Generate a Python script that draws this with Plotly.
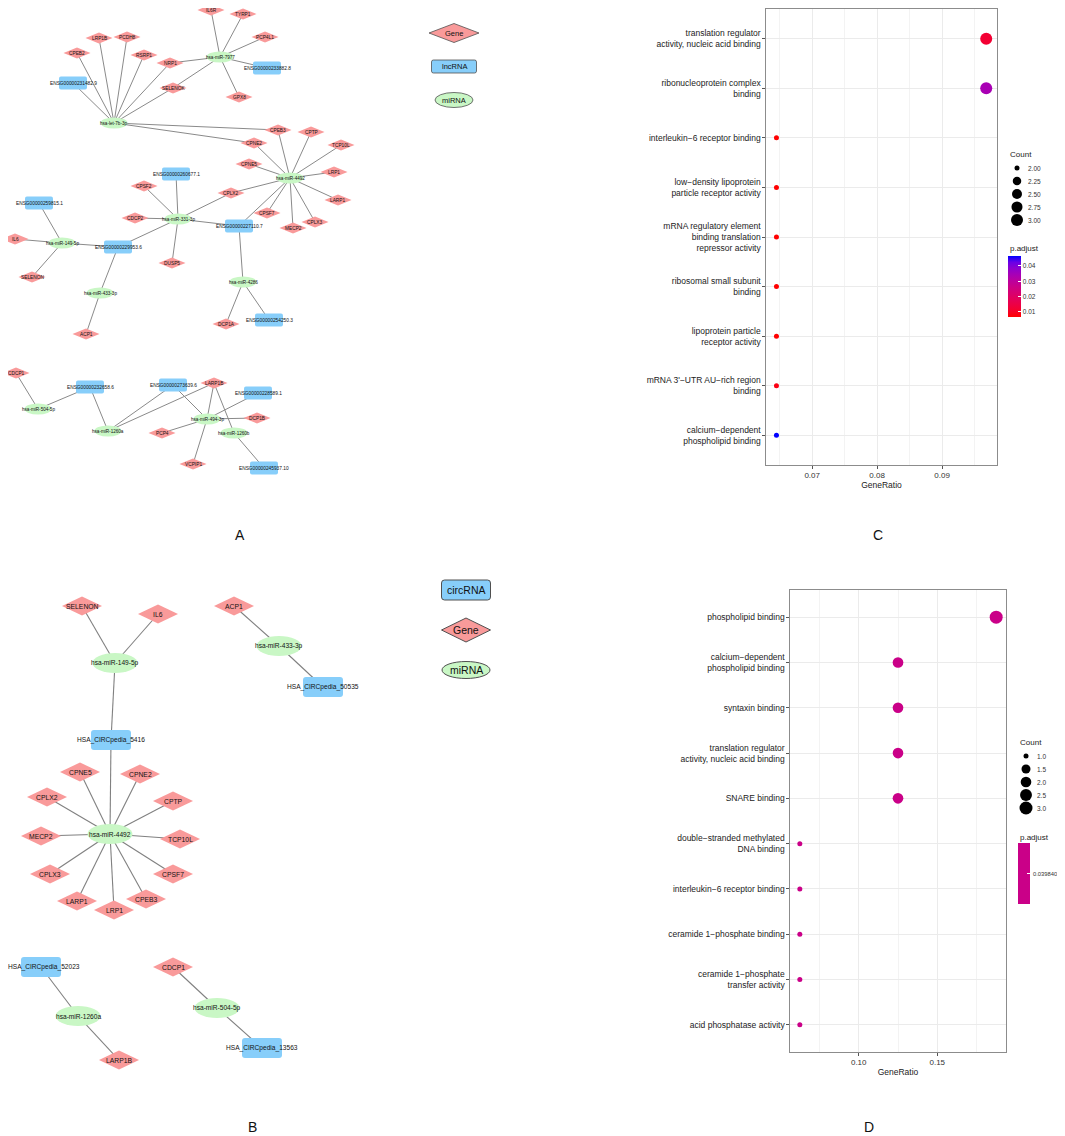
import numpy as np
import plotly.graph_objects as go

W, H = 1065, 1136          # browser window
OX, OY = 8, 8              # default page body margin offset
FW, FH = W - OX, H - OY    # figure size so it ends at the window edge

# ======================= DATA =======================
# ---- Panel A: ceRNA network (node layout in page pixels) ----
a_node_names = [
    "IL6R", "TYRP1", "LRP1B", "PCDH8", "CPEB2", "RSRP1", "PCP4L1", "NRP1", "SELENOK", "GPX8",
    "CPEB3", "CPTP", "TCP10L", "CPNE2", "CPNE5", "LRP1", "LARP1", "CPLX2", "CPSF7", "CPLX3",
    "MECP2", "CPSF2", "CDCP2", "IL6", "SELENON", "DUSP5", "DCP1A", "ACP1", "CDCP1", "LARP1B",
    "DCP1B", "PCP4", "VCPIP1",
    "ENSG00000233882.8", "ENSG00000231482.9", "ENSG00000260677.1", "ENSG00000259815.1",
    "ENSG00000227110.7", "ENSG00000229953.6", "ENSG00000254250.3", "ENSG00000232658.6",
    "ENSG00000273639.6", "ENSG00000228589.1", "ENSG00000245937.10",
    "hsa-miR-7977", "hsa-let-7b-3p", "hsa-miR-4492", "hsa-miR-331-3p", "hsa-miR-149-5p",
    "hsa-miR-433-3p", "hsa-miR-4286", "hsa-miR-504-5p", "hsa-miR-1260a", "hsa-miR-494-3p",
    "hsa-miR-1260b",
]
a_node_types = ["gene"] * 33 + ["lnc"] * 11 + ["mir"] * 11
a_node_x = [211, 243, 99, 127, 77, 144, 265, 170, 173, 239,
            278, 311, 341, 254, 249, 334, 338, 231, 267, 315,
            293, 144, 135, 15, 32, 172, 226, 86, 16, 214,
            257, 162, 193,
            267, 73, 176, 39, 239, 118, 269, 90, 173, 258, 264,
            220, 114, 290, 178, 62, 100, 243, 38, 108, 207, 234]
a_node_y = [10, 14, 38, 37, 53, 55, 37, 63, 88, 97,
            130, 132, 145, 143, 164, 172, 200, 193, 213, 222,
            228, 186, 218, 239, 277, 263, 324, 334, 373, 383,
            418, 433, 464,
            68, 83, 174, 203, 226, 247, 320, 387, 385, 393, 468,
            57, 123, 178, 219, 243, 293, 282, 409, 431, 419, 433]
a_edge_src = (["hsa-let-7b-3p"] * 9 + ["hsa-miR-7977"] * 7 + ["hsa-miR-4492"] * 12 +
              ["hsa-miR-331-3p"] * 7 + ["hsa-miR-149-5p"] * 4 + ["hsa-miR-433-3p"] * 2 +
              ["hsa-miR-4286"] * 3 + ["hsa-miR-504-5p"] * 2 + ["hsa-miR-1260a"] * 3 +
              ["hsa-miR-494-3p"] * 6 + ["hsa-miR-1260b"] * 2)
a_edge_dst = ["CPEB2", "LRP1B", "PCDH8", "RSRP1", "NRP1", "SELENOK", "ENSG00000231482.9", "CPEB3", "CPNE2",
              "IL6R", "TYRP1", "PCP4L1", "NRP1", "ENSG00000233882.8", "GPX8", "SELENOK",
              "CPEB3", "CPTP", "TCP10L", "CPNE2", "CPNE5", "LRP1", "LARP1", "CPLX2", "CPSF7", "CPLX3",
              "MECP2", "ENSG00000227110.7",
              "ENSG00000260677.1", "CPSF2", "CDCP2", "CPLX2", "ENSG00000227110.7", "DUSP5",
              "ENSG00000229953.6",
              "ENSG00000259815.1", "IL6", "SELENON", "ENSG00000229953.6",
              "ENSG00000229953.6", "ACP1",
              "ENSG00000227110.7", "DCP1A", "ENSG00000254250.3",
              "CDCP1", "ENSG00000232658.6",
              "ENSG00000232658.6", "ENSG00000273639.6", "LARP1B",
              "ENSG00000273639.6", "LARP1B", "ENSG00000228589.1", "DCP1B", "PCP4", "VCPIP1",
              "LARP1B", "ENSG00000245937.10"]
a_legend_labels = ["Gene", "lncRNA", "miRNA"]
a_legend_types = ["gene", "lnc", "mir"]

# ---- Panel B: circRNA network ----
b_node_names = ["SELENON", "IL6", "ACP1", "CPNE5", "CPNE2", "CPLX2", "CPTP", "MECP2", "TCP10L",
                "CPLX3", "CPSF7", "LARP1", "CPEB3", "LRP1", "CDCP1", "LARP1B",
                "HSA_CIRCpedia_50535", "HSA_CIRCpedia_5416", "HSA_CIRCpedia_52023", "HSA_CIRCpedia_13563",
                "hsa-miR-149-5p", "hsa-miR-433-3p", "hsa-miR-4492", "hsa-miR-1260a", "hsa-miR-504-5p"]
b_node_types = ["gene"] * 16 + ["lnc"] * 4 + ["mir"] * 5
b_node_x = [82, 158, 234, 80, 140, 47, 173, 41, 180, 50, 173, 77, 146, 114, 173, 119,
            323, 111, 41, 262,
            115, 279, 110, 78, 217]
b_node_y = [606, 614, 606, 772, 774, 797, 801, 836, 839, 874, 874, 901, 899, 910, 967, 1060,
            687, 740, 967, 1048,
            663, 646, 834, 1016, 1008]
b_edge_src = (["hsa-miR-149-5p"] * 3 + ["hsa-miR-433-3p"] * 2 + ["hsa-miR-4492"] * 12 +
              ["hsa-miR-1260a"] * 2 + ["hsa-miR-504-5p"] * 2)
b_edge_dst = ["SELENON", "IL6", "HSA_CIRCpedia_5416",
              "ACP1", "HSA_CIRCpedia_50535",
              "HSA_CIRCpedia_5416", "CPNE5", "CPNE2", "CPLX2", "CPTP", "MECP2", "TCP10L", "CPLX3",
              "CPSF7", "LARP1", "CPEB3", "LRP1",
              "HSA_CIRCpedia_52023", "LARP1B",
              "CDCP1", "HSA_CIRCpedia_13563"]
b_legend_labels = ["circRNA", "Gene", "miRNA"]
b_legend_types = ["lnc", "gene", "mir"]

# ---- Panel C: GO enrichment (lncRNA network genes) ----
c_terms = ["translation regulator\nactivity, nucleic acid binding",
           "ribonucleoprotein complex\nbinding",
           "interleukin−6 receptor binding",
           "low−density lipoprotein\nparticle receptor activity",
           "mRNA regulatory element\nbinding translation\nrepressor activity",
           "ribosomal small subunit\nbinding",
           "lipoprotein particle\nreceptor activity",
           "mRNA 3'−UTR AU−rich region\nbinding",
           "calcium−dependent\nphospholipid binding"]
c_gene_ratio = [0.0968, 0.0968, 0.0645, 0.0645, 0.0645, 0.0645, 0.0645, 0.0645, 0.0645]
c_count = [3, 3, 2, 2, 2, 2, 2, 2, 2]
c_padj = [0.012, 0.034, 0.0067, 0.0067, 0.0067, 0.0067, 0.0067, 0.0085, 0.0465]
c_x_ticks = [0.07, 0.08, 0.09]
c_count_legend = [2.00, 2.25, 2.50, 2.75, 3.00]
c_padj_ticks = [0.01, 0.02, 0.03, 0.04]

# ---- Panel D: GO enrichment (circRNA network genes) ----
d_terms = ["phospholipid binding",
           "calcium−dependent\nphospholipid binding",
           "syntaxin binding",
           "translation regulator\nactivity, nucleic acid binding",
           "SNARE binding",
           "double−stranded methylated\nDNA binding",
           "interleukin−6 receptor binding",
           "ceramide 1−phosphate binding",
           "ceramide 1−phosphate\ntransfer activity",
           "acid phosphatase activity"]
d_gene_ratio = [0.1875, 0.125, 0.125, 0.125, 0.125, 0.0625, 0.0625, 0.0625, 0.0625, 0.0625]
d_count = [3, 2, 2, 2, 2, 1, 1, 1, 1, 1]
d_padj = [0.0398404] * 10
d_x_ticks = [0.10, 0.15]
d_count_legend = [1.0, 1.5, 2.0, 2.5, 3.0]

# ======================= STYLE HELPERS =======================
FONT = "Liberation Sans, Arial, sans-serif"
GENE_FILL, LNC_FILL, MIR_FILL = "#F99A9A", "#87CEFA", "#C9F7C5"


def px_x(px):
    return min(1.0, max(0.0, (px - OX) / FW))


def px_y(py):
    return min(1.0, max(0.0, 1 - (py - OY) / FH))


def _lin(c):
    c = np.asarray(c, float)
    return np.where(c <= 0.04045, c / 12.92, ((c + 0.055) / 1.055) ** 2.4)


def _gam(c):
    c = np.clip(c, 0, 1)
    return np.where(c <= 0.0031308, 12.92 * c, 1.055 * c ** (1 / 2.4) - 0.055)


_M = np.array([[0.4124, 0.3576, 0.1805], [0.2126, 0.7152, 0.0722], [0.0193, 0.1192, 0.9505]])
_WP = np.array([0.95047, 1.0, 1.08883])


def rgb2lab(rgb):
    xyz = _M @ _lin(np.array(rgb) / 255.0) / _WP
    f = np.where(xyz > 0.008856, np.cbrt(xyz), 7.787 * xyz + 16 / 116)
    return np.array([116 * f[1] - 16, 500 * (f[0] - f[1]), 200 * (f[1] - f[2])])


def lab2hex(lab):
    L, a, b = lab
    fy = (L + 16) / 116
    fx = fy + a / 500
    fz = fy - b / 200
    f = np.array([fx, fy, fz])
    xyz = np.where(f ** 3 > 0.008856, f ** 3, (f - 16 / 116) / 7.787) * _WP
    rgb = _gam(np.linalg.solve(_M, xyz))
    r, g, bb = (np.round(rgb * 255)).astype(int)
    return "#%02X%02X%02X" % (r, g, bb)


LAB_LO, LAB_HI = rgb2lab([255, 0, 0]), rgb2lab([0, 0, 255])
lab_scale = [[float(t), lab2hex(LAB_LO + (LAB_HI - LAB_LO) * t)] for t in np.linspace(0, 1, 11)]
mid_color = lab2hex(LAB_LO + (LAB_HI - LAB_LO) * 0.5)


def size_px(v, vmin, vmax, dmin, dmax):
    t = (np.asarray(v, float) - vmin) / (vmax - vmin)
    return dmin + (dmax - dmin) * np.sqrt(t)


def node_shape(kind, cx, cy, w, h, fill, line_color=None, line_w=0):
    line = dict(color=line_color or fill, width=line_w)
    if kind == "gene":
        path = f"M{cx - w / 2},{cy} L{cx},{cy - h / 2} L{cx + w / 2},{cy} L{cx},{cy + h / 2} Z"
        return dict(type="path", path=path, xref="x", yref="y", fillcolor=fill, line=line, layer="above")
    if kind == "lnc":
        r = min(w, h) * 0.15
        x0, x1, y0, y1 = cx - w / 2, cx + w / 2, cy - h / 2, cy + h / 2
        path = (f"M{x0 + r},{y0} L{x1 - r},{y0} Q{x1},{y0} {x1},{y0 + r} L{x1},{y1 - r} "
                f"Q{x1},{y1} {x1 - r},{y1} L{x0 + r},{y1} Q{x0},{y1} {x0},{y1 - r} "
                f"L{x0},{y0 + r} Q{x0},{y0} {x0 + r},{y0} Z")
        return dict(type="path", path=path, xref="x", yref="y", fillcolor=fill, line=line, layer="above")
    return dict(type="circle", x0=cx - w / 2, x1=cx + w / 2, y0=cy - h / 2, y1=cy + h / 2,
                xref="x", yref="y", fillcolor=fill, line=line, layer="above")


FILLS = {"gene": GENE_FILL, "lnc": LNC_FILL, "mir": MIR_FILL}

fig = go.Figure()
shapes, annots = [], []


def draw_network(names, types, xs, ys, src, dst, sizes, font_sizes, edge_w, edge_col):
    pos = {n: (x, y) for n, x, y in zip(names, xs, ys)}
    ex, ey = [], []
    for s, d in zip(src, dst):
        ex += [pos[s][0], pos[d][0], None]
        ey += [pos[s][1], pos[d][1], None]
    fig.add_trace(go.Scatter(x=ex, y=ey, mode="lines", line=dict(color=edge_col, width=edge_w),
                             hoverinfo="skip", showlegend=False, xaxis="x", yaxis="y"))
    for n, t, x, y in zip(names, types, xs, ys):
        w, h = sizes[t]
        shapes.append(node_shape(t, x, y, w, h, FILLS[t]))
        half = len(n) * 0.56 * font_sizes[t] / 2
        lx = max(x, OX + 1 + half)      # keep label inside the page
        annots.append(dict(x=lx, y=y, xref="x", yref="y", text=n, showarrow=False,
                           xanchor="center", yanchor="middle",
                           font=dict(family=FONT, size=font_sizes[t], color="#111")))


draw_network(a_node_names, a_node_types, a_node_x, a_node_y, a_edge_src, a_edge_dst,
             {"gene": (27, 11), "lnc": (28, 13), "mir": (27, 11)},
             {"gene": 4.8, "lnc": 4.8, "mir": 4.6}, 1.0, "#8A8A8A")
draw_network(b_node_names, b_node_types, b_node_x, b_node_y, b_edge_src, b_edge_dst,
             {"gene": (40, 19), "lnc": (40, 20), "mir": (45, 20)},
             {"gene": 6.8, "lnc": 6.6, "mir": 6.6}, 1.1, "#808080")

# network legends
a_leg_sizes = {"gene": (50, 19), "lnc": (45, 13), "mir": (38, 15)}
for i, (lab, t) in enumerate(zip(a_legend_labels, a_legend_types)):
    cx, cy = 454, 33 + i * 33.5
    w, h = a_leg_sizes[t]
    shapes.append(node_shape(t, cx, cy, w, h, FILLS[t], "#505050", 0.8))
    annots.append(dict(x=cx, y=cy, xref="x", yref="y", text=lab, showarrow=False,
                       font=dict(family=FONT, size=7.5, color="#111")))
b_leg_sizes = {"gene": (49, 24), "lnc": (49, 20), "mir": (48, 17)}
for i, (lab, t) in enumerate(zip(b_legend_labels, b_legend_types)):
    cx, cy = 466, 590 + i * 40
    w, h = b_leg_sizes[t]
    shapes.append(node_shape(t, cx, cy, w, h, FILLS[t], "#505050", 1))
    annots.append(dict(x=cx, y=cy, xref="x", yref="y", text=lab, showarrow=False,
                       font=dict(family=FONT, size=10.5, color="#111")))

# ======================= DOT PLOTS =======================
c_labels = [t.replace("\n", "<br>") for t in c_terms]
d_labels = [t.replace("\n", "<br>") for t in d_terms]

fig.add_trace(go.Scatter(
    x=c_gene_ratio, y=c_labels, mode="markers", xaxis="x2", yaxis="y2", showlegend=False,
    marker=dict(size=size_px(c_count, min(c_count), max(c_count), 5, 12), color=c_padj,
                colorscale=lab_scale, cmin=min(c_padj), cmax=max(c_padj), line=dict(width=0),
                opacity=1, showscale=True,
                colorbar=dict(x=px_x(1008), xanchor="left", xpad=0, y=px_y(286.5), yanchor="middle",
                              ypad=0, len=61, lenmode="pixels", thickness=13, outlinewidth=0,
                              tickvals=c_padj_ticks, ticktext=[f"{v:.2f}" for v in c_padj_ticks],
                              ticks="inside", ticklen=3, tickcolor="white",
                              tickfont=dict(family=FONT, size=6.5, color="#333")))))

d_p = d_padj[0]
fig.add_trace(go.Scatter(
    x=d_gene_ratio, y=d_labels, mode="markers", xaxis="x3", yaxis="y3", showlegend=False,
    marker=dict(size=size_px(d_count, min(d_count), max(d_count), 5, 13), color=d_padj,
                colorscale=[[0, mid_color], [1, mid_color]], cmin=d_p * 0.999, cmax=d_p * 1.001,
                line=dict(width=0), opacity=1, showscale=True,
                colorbar=dict(x=px_x(1018), xanchor="left", xpad=0, y=px_y(873.5), yanchor="middle",
                              ypad=0, len=61, lenmode="pixels", thickness=12, outlinewidth=0,
                              tickvals=[d_p], ticktext=[""],
                              ticks="inside", ticklen=3, tickcolor="white",
                              tickfont=dict(family=FONT, size=6.5, color="#333")))))
annots.append(dict(x=1032, y=873.5, xref="x", yref="y", text=str(d_p), showarrow=False,
                   xanchor="left", yanchor="middle", borderpad=0,
                   font=dict(family=FONT, size=5.8, color="#333")))

# size legends (Count)
for vals, lo, hi, dmin, dmax, x0, y0, fmt in [
        (c_count_legend, min(c_count), max(c_count), 5, 12, 1017, 168, "{:.2f}"),
        (d_count_legend, min(d_count), max(d_count), 5, 13, 1026, 756, "{:.1f}")]:
    ys = [y0 + 13 * i for i in range(len(vals))]
    fig.add_trace(go.Scatter(x=[x0] * len(vals), y=ys, mode="markers", xaxis="x", yaxis="y",
                             marker=dict(size=size_px(vals, lo, hi, dmin, dmax), color="black",
                                         opacity=1, line=dict(width=0)),
                             hoverinfo="skip", showlegend=False))
    for v, yy in zip(vals, ys):
        annots.append(dict(x=x0 + 9, y=yy, xref="x", yref="y", text=fmt.format(v), showarrow=False,
                           xanchor="left", yanchor="middle",
                           font=dict(family=FONT, size=6.5, color="#333")))

for txt, x, y in [("Count", 1008, 154), ("p.adjust", 1008, 248),
                  ("Count", 1018, 742), ("p.adjust", 1018, 837)]:
    annots.append(dict(x=x, y=y, xref="x", yref="y", text=txt, showarrow=False, xanchor="left",
                       yanchor="middle", font=dict(family=FONT, size=8, color="#222")))

for txt, x, y in [("A", 240, 535), ("B", 252, 1127), ("C", 878, 535), ("D", 869, 1127)]:
    annots.append(dict(x=x, y=y, xref="x", yref="y", text=txt, showarrow=False,
                       xanchor="center", yanchor="middle", borderpad=0,
                       font=dict(family=FONT, size=14, color="#111")))


def dot_axes(xdom, ydom, xr, ticks, minor, labels, yanchor_name, xanchor_name):
    xa = dict(domain=xdom, anchor=yanchor_name, range=xr, tickvals=ticks,
              ticktext=[f"{t:.2f}" for t in ticks], showgrid=True, gridcolor="#EBEBEB", gridwidth=1,
              minor=dict(tickvals=minor, showgrid=True, gridcolor="#F3F3F3", gridwidth=0.6),
              zeroline=False, showline=True, mirror=True, linecolor="#8C8C8C", linewidth=1.2,
              ticks="outside", ticklen=2.5, tickcolor="#555",
              tickfont=dict(family=FONT, size=8, color="#333"),
              title=dict(text="GeneRatio", font=dict(family=FONT, size=8.5, color="#222"), standoff=2))
    ya = dict(domain=ydom, anchor=xanchor_name, type="category", categoryorder="array",
              categoryarray=labels, range=[len(labels) - 0.4, -0.6], showgrid=True,
              gridcolor="#EBEBEB", gridwidth=1, zeroline=False, showline=True, mirror=True,
              linecolor="#8C8C8C", linewidth=1.2, ticks="outside", ticklen=2.5, tickcolor="#555",
              tickfont=dict(family=FONT, size=8.5, color="#222"))
    return xa, ya


xa2, ya2 = dot_axes([px_x(766), px_x(997)], [px_y(465), px_y(9)], [0.06289, 0.09846],
                    c_x_ticks, [0.065, 0.075, 0.085, 0.095], c_labels, "y2", "x2")
xa3, ya3 = dot_axes([px_x(790), px_x(1006)], [px_y(1052), px_y(590)], [0.05625, 0.19375],
                    d_x_ticks, [0.075, 0.125, 0.175], d_labels, "y3", "x3")

fig.update_layout(
    width=FW, height=FH, autosize=False, margin=dict(l=0, r=0, t=0, b=0),
    paper_bgcolor="white", plot_bgcolor="rgba(0,0,0,0)", showlegend=False,
    font=dict(family=FONT),
    xaxis=dict(domain=[0, 1], range=[OX, W], visible=False, fixedrange=True),
    yaxis=dict(domain=[0, 1], range=[H, OY], visible=False, fixedrange=True),
    xaxis2=xa2, yaxis2=ya2, xaxis3=xa3, yaxis3=ya3,
    shapes=shapes, annotations=annots,
)

fig.write_html("out.html")
